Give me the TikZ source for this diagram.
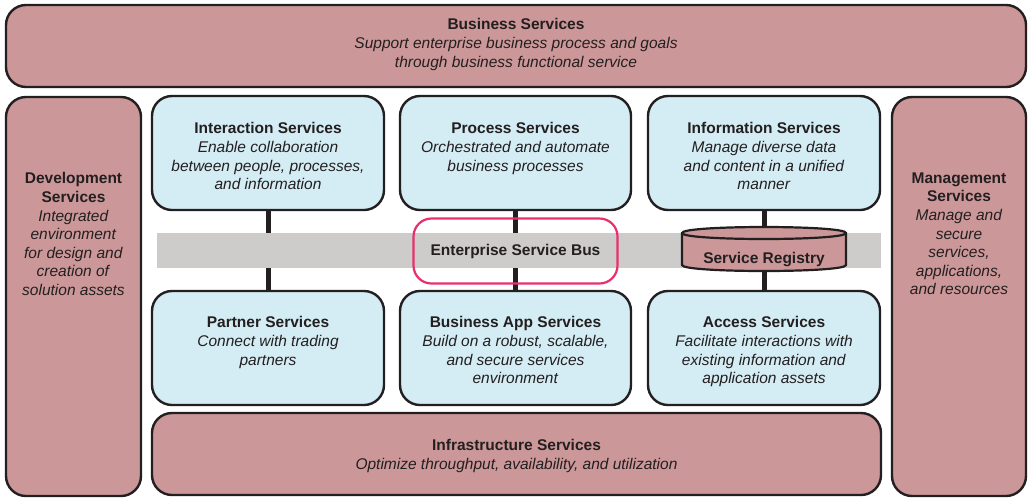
\documentclass[tikz,border=0pt]{standalone}
\usepackage{fontspec}
\setmainfont{Liberation Sans}
\usetikzlibrary{calc}

\definecolor{svcpink}{RGB}{204,151,153}
\definecolor{svcblue}{RGB}{212,236,243}
\definecolor{busgray}{RGB}{205,204,203}
\definecolor{esbred}{RGB}{232,48,110}
\definecolor{ink}{RGB}{35,31,32}

\pgfdeclarelayer{links}
\pgfsetlayers{links,main}

\begin{document}
\begin{tikzpicture}[x=1pt,y=-1pt,
  box/.style={draw=ink, line width=2.4pt, rounded corners=20pt, inner sep=0pt},
  pinkbox/.style={box, fill=svcpink},
  bluebox/.style={box, fill=svcblue},
  txt/.style={align=center, inner sep=0pt, text=ink,
    font=\fontsize{15.5}{18.6}\selectfont, anchor=north},
  link/.style={draw=ink, line width=5pt},
]
\useasboundingbox (0,0) rectangle (1030,499);

% layer boxes
\node[pinkbox, minimum width=1020pt, minimum height=82pt] (business) at (516,46) {};
\node[pinkbox, minimum width=135pt, minimum height=399pt] (dev) at (73.5,296.5) {};
\node[pinkbox, minimum width=134pt, minimum height=399pt] (mgmt) at (959,296.5) {};
\node[pinkbox, minimum width=729pt, minimum height=82pt] (infra) at (516.5,454) {};

% enterprise service bus band
\node[fill=busgray, minimum width=724pt, minimum height=35pt, inner sep=0pt] (bus) at (519,250.5) {};

% service boxes
\node[bluebox, minimum width=232pt, minimum height=114pt] (inter) at (268,153) {};
\node[bluebox, minimum width=231pt, minimum height=114pt] (proc) at (515.5,153) {};
\node[bluebox, minimum width=232pt, minimum height=114pt] (info) at (764,153) {};
\node[bluebox, minimum width=232pt, minimum height=114pt] (partner) at (268,348) {};
\node[bluebox, minimum width=231pt, minimum height=114pt] (bizapp) at (515.5,348) {};
\node[bluebox, minimum width=232pt, minimum height=114pt] (access) at (764,348) {};

% links through the bus, kept beneath the band and the boxes
\begin{pgfonlayer}{links}
  \draw[link] (inter.south) -- (partner.north);
  \draw[link] (proc.south) -- (bizapp.north);
  \draw[link] (info.south) -- (access.north);
\end{pgfonlayer}

% enterprise service bus label
\node[draw=esbred, line width=2.2pt, rounded corners=18pt, minimum width=204pt,
      minimum height=65pt, inner sep=0pt, text=ink,
      font=\fontsize{15.5}{18.6}\selectfont\bfseries] (esb) at (515.5,251) {Enterprise Service Bus};

% service registry drum
\filldraw[fill=svcpink, draw=ink, line width=2.2pt]
  (682,233) -- (682,265) .. controls (682,273) and (846,273) .. (846,265)
  -- (846,233) .. controls (846,225) and (682,225) .. (682,233) -- cycle;
\draw[ink, line width=2.2pt] (682,233) .. controls (682,241) and (846,241) .. (846,233);
\node[text=ink, inner sep=0pt, font=\fontsize{15.5}{18.6}\selectfont\bfseries] (registry) at (764,259.5) {Service Registry};

% texts
\node[txt] (business-t) at (516,18.5) {\textbf{Business Services}\\
  \textit{Support enterprise business process and goals}\\
  \textit{through business functional service}};
\node[txt] (dev-t) at (73.5,172.5) {\textbf{Development}\\\textbf{Services}\\
  \textit{Integrated}\\\textit{environment}\\\textit{for design and}\\
  \textit{creation of}\\\textit{solution assets}};
\node[txt] (mgmt-t) at (959,172.5) {\textbf{Management}\\\textbf{Services}\\
  \textit{Manage and}\\\textit{secure}\\\textit{services,}\\
  \textit{applications,}\\\textit{and resources}};
\node[txt] (inter-t) at (268,122.5) {\textbf{Interaction Services}\\
  \textit{Enable collaboration}\\\textit{between people, processes,}\\\textit{and information}};
\node[txt] (proc-t) at (515.5,122.5) {\textbf{Process Services}\\
  \textit{Orchestrated and automate}\\\textit{business processes}};
\node[txt] (info-t) at (764,122.5) {\textbf{Information Services}\\
  \textit{Manage diverse data}\\\textit{and content in a unified}\\\textit{manner}};
\node[txt] (partner-t) at (268,316.5) {\textbf{Partner Services}\\
  \textit{Connect with trading}\\\textit{partners}};
\node[txt] (bizapp-t) at (515.5,316.5) {\textbf{Business App Services}\\
  \textit{Build on a robust, scalable,}\\\textit{and secure services}\\\textit{environment}};
\node[txt] (access-t) at (764,316.5) {\textbf{Access Services}\\
  \textit{Facilitate interactions with}\\\textit{existing information and}\\\textit{application assets}};
\node[txt] (infra-t) at (516.5,439.5) {\textbf{Infrastructure Services}\\
  \textit{Optimize throughput, availability, and utilization}};
\end{tikzpicture}
\end{document}
